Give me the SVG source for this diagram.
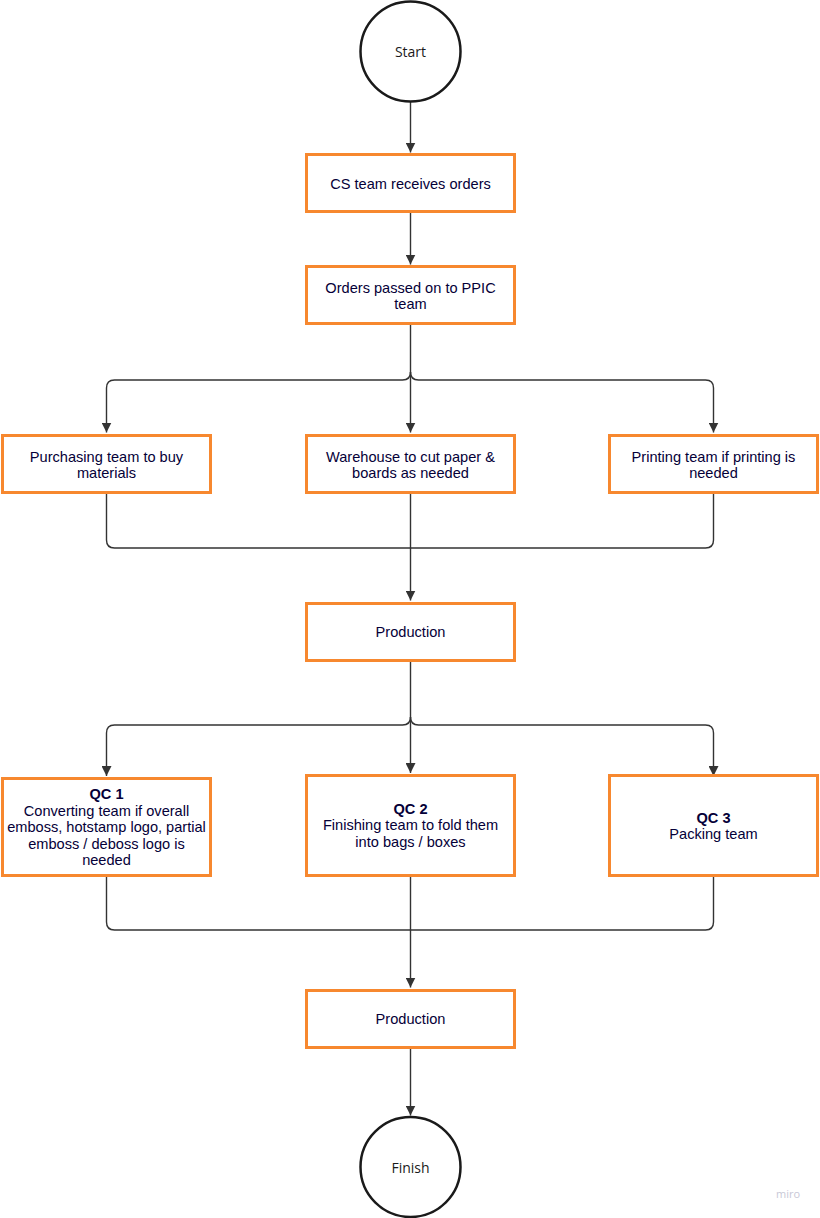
<svg xmlns="http://www.w3.org/2000/svg" width="820" height="1218" viewBox="0 0 820 1218">
<style>
.box{fill:#fff;stroke:#f7882f;stroke-width:3}
.term{fill:#fff;stroke:#1a1a1a;stroke-width:2.5}
.t{font-family:"Liberation Sans",Arial,sans-serif;font-size:14.6px;fill:#050038;text-anchor:middle}
.b{font-weight:bold}
.tt{font-family:"Open Sans","Noto Sans",sans-serif;font-size:14px;fill:#1a1a1a;text-anchor:middle}
.c{fill:none;stroke:#333;stroke-width:1.4}
.a{marker-end:url(#arr)}
</style>
<defs>
<marker id="arr" markerUnits="userSpaceOnUse" markerWidth="10" markerHeight="10" refX="10" refY="5" orient="auto">
<path d="M0,0 L10,5 L0,10 z" fill="#333"/>
</marker>
</defs>
<rect width="820" height="1218" fill="#fff"/>
<g id="connectors">
<path class="c a" d="M410.5,102 V152.5"/>
<path class="c a" d="M410.5,213 V264.5"/>
<path class="c a" d="M410.5,325 V432.5"/>
<path class="c a" d="M410.5,372 Q410.5,380 402.5,380 H114.5 Q106.5,380 106.5,388 V432.5"/>
<path class="c a" d="M410.5,372 Q410.5,380 418.5,380 H705.5 Q713.5,380 713.5,388 V432.5"/>
<path class="c" d="M106.5,494 V540 Q106.5,548 114.5,548 H705.5 Q713.5,548 713.5,540 V494"/>
<path class="c a" d="M410.5,494 V600.5"/>
<path class="c a" d="M410.5,662 V773"/>
<path class="c a" d="M410.5,717 Q410.5,725 402.5,725 H114.5 Q106.5,725 106.5,733 V776"/>
<path class="c a" d="M410.5,717 Q410.5,725 418.5,725 H705.5 Q713.5,725 713.5,733 V776"/>
<path class="c" d="M106.5,877 V922 Q106.5,930 114.5,930 H705.5 Q713.5,930 713.5,922 V877"/>
<path class="c a" d="M410.5,877 V987.5"/>
<path class="c a" d="M410.5,1049 V1115.5"/>
</g>
<g id="start">
<circle class="term" cx="410.5" cy="51.5" r="50"/>
<text class="tt" x="410.5" y="57">Start</text>
</g>
<g id="cs">
<rect class="box" x="306.5" y="154.5" width="208" height="57"/>
<text class="t" x="410.5" y="189">CS team receives orders</text>
</g>
<g id="orders">
<rect class="box" x="306.5" y="266.5" width="208" height="57"/>
<text class="t" x="410.5" y="293">Orders passed on to PPIC</text>
<text class="t" x="410.5" y="309">team</text>
</g>
<g id="purchasing">
<rect class="box" x="2.5" y="435.5" width="208" height="57"/>
<text class="t" x="106.5" y="461.5">Purchasing team to buy</text>
<text class="t" x="106.5" y="477.5">materials</text>
</g>
<g id="warehouse">
<rect class="box" x="306.5" y="435.5" width="208" height="57"/>
<text class="t" x="410.5" y="461.5">Warehouse to cut paper &amp;</text>
<text class="t" x="410.5" y="477.5">boards as needed</text>
</g>
<g id="printing">
<rect class="box" x="609.5" y="435.5" width="208" height="57"/>
<text class="t" x="713.5" y="461.5">Printing team if printing is</text>
<text class="t" x="713.5" y="477.5">needed</text>
</g>
<g id="production1">
<rect class="box" x="306.5" y="603.5" width="208" height="57"/>
<text class="t" x="410.5" y="637">Production</text>
</g>
<g id="qc1">
<rect class="box" x="2.5" y="778.5" width="208" height="97"/>
<text class="t b" x="106.5" y="799">QC 1</text>
<text class="t" x="106.5" y="815.5">Converting team if overall</text>
<text class="t" x="106.5" y="832">emboss, hotstamp logo, partial</text>
<text class="t" x="106.5" y="848.5">emboss / deboss logo is</text>
<text class="t" x="106.5" y="865">needed</text>
</g>
<g id="qc2">
<rect class="box" x="306.5" y="775.5" width="208" height="100"/>
<text class="t b" x="410.5" y="813.5">QC 2</text>
<text class="t" x="410.5" y="830">Finishing team to fold them</text>
<text class="t" x="410.5" y="846.5">into bags / boxes</text>
</g>
<g id="qc3">
<rect class="box" x="609.5" y="775.5" width="208" height="100"/>
<text class="t b" x="713.5" y="822.5">QC 3</text>
<text class="t" x="713.5" y="839">Packing team</text>
</g>
<g id="production2">
<rect class="box" x="306.5" y="990.5" width="208" height="57"/>
<text class="t" x="410.5" y="1024">Production</text>
</g>
<g id="finish">
<circle class="term" cx="410.5" cy="1167" r="50"/>
<text class="tt" x="410.5" y="1173">Finish</text>
</g>
<text x="788" y="1198" font-family="'Open Sans','Noto Sans',sans-serif" font-size="11" fill="#c8c8d6" text-anchor="middle">miro</text>
</svg>
